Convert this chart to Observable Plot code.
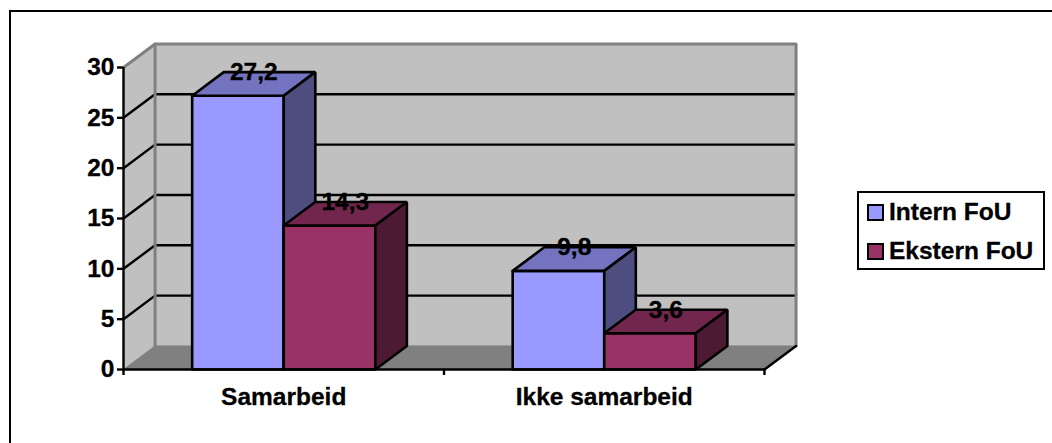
<!DOCTYPE html>
<html><head><meta charset="utf-8">
<script src="https://cdn.jsdelivr.net/npm/d3@7"></script>
<script src="https://cdn.jsdelivr.net/npm/@observablehq/plot@0.6"></script>
<style>
html,body{margin:0;padding:0;background:#fff;overflow:hidden}
#wrap{position:relative;width:1052px;height:443px;font-family:"Liberation Sans",Arial,sans-serif}
#frame{position:absolute;left:9px;top:10px;width:1100px;height:500px;border:2px solid #000}
#legend{position:absolute;left:857px;top:191px;width:184px;height:75px;border:2px solid #000;background:#fff;font-weight:bold;font-size:24.5px;color:#000;-webkit-text-stroke:.3px #000}
.row{position:absolute;left:8px;height:28px;line-height:28px;white-space:nowrap}
.sw{display:inline-block;width:13px;height:13px;border:2px solid #000;margin-right:5px;vertical-align:-1px;-webkit-text-stroke:0}
svg{position:absolute;left:0;top:0}
</style></head><body>
<div id="wrap"><div id="frame"></div><div id="legend"></div></div>
<script>
const categories = ["Samarbeid", "Ikke samarbeid"];
const seriesNames = ["Intern FoU", "Ekstern FoU"];
const internFoU = [27.2, 9.8];
const eksternFoU = [14.3, 3.6];
const yTicks = [0, 5, 10, 15, 20, 25, 30];
const frontColors = ["#9999FF", "#993366"];
const topColors = ["#7373BF", "#73264D"];
const sideColors = ["#4D4D80", "#4D1A33"];

const seriesValues = [internFoU, eksternFoU];
const depthX = 0.0985, depthY = 2.34;        // oblique depth in data units
const barW = 1 / (seriesNames.length + 1.5); // 150% gap width
const yMax = yTicks[yTicks.length - 1], xMax = categories.length;
const comma = (v) => String(v).replace(".", ",");

let id = 0;
const poly = (pts, color) => { const z = id++; return pts.map(([x, y]) => ({x, y, z, color})); };
const barFaces = [], labels = [];
categories.forEach((c, i) => {
  seriesValues.forEach((vals, s) => {
    const v = vals[i], x0 = i + (1 - barW * seriesNames.length) / 2 + s * barW, x1 = x0 + barW;
    barFaces.push(...poly([[x0,0],[x1,0],[x1,v],[x0,v],[x0,0]], frontColors[s]));
    barFaces.push(...poly([[x0,v],[x1,v],[x1+depthX,v+depthY],[x0+depthX,v+depthY],[x0,v]], topColors[s]));
    barFaces.push(...poly([[x1,0],[x1+depthX,depthY],[x1+depthX,v+depthY],[x1,v],[x1,0]], sideColors[s]));
    labels.push({x: (x0 + x1) / 2 + depthX / 2, y: v + depthY, t: comma(v)});
  });
});
const wall = [
  ...poly([[depthX,depthY],[xMax+depthX,depthY],[xMax+depthX,yMax+depthY],[depthX,yMax+depthY],[depthX,depthY]], "#C0C0C0"),
  ...poly([[0,0],[depthX,depthY],[depthX,yMax+depthY],[0,yMax],[0,0]], "#C0C0C0")
];
const floor = poly([[0,0],[xMax,0],[xMax+depthX,depthY],[depthX,depthY],[0,0]], "#808080");
const grid = yTicks.slice(1, -1).flatMap(v => poly([[0,v],[depthX,v+depthY],[xMax+depthX,v+depthY]], "#000"));
const edges = [
  ...poly([[0,yMax],[depthX,yMax+depthY],[xMax+depthX,yMax+depthY],[xMax+depthX,depthY]], "#808080"),
  ...poly([[depthX,yMax+depthY],[depthX,depthY]], "#808080")
];
const floorEdge = [...poly([[xMax,0],[xMax+depthX,depthY]], "#000")];

const chart = Plot.plot({
  width: 1052, height: 443,
  marginLeft: 123, marginRight: 288, marginTop: 67, marginBottom: 74,
  x: {type: "linear", domain: [0, xMax], label: null},
  y: {domain: [0, yMax], label: null},
  color: {type: "identity"},
  style: {background: "transparent", fontFamily: '"Liberation Sans", Arial, sans-serif', overflow: "visible"},
  marks: [
    Plot.line(wall, {x: "x", y: "y", z: "z", fill: "color", stroke: "#C0C0C0", strokeWidth: 1}),
    Plot.line(floor, {x: "x", y: "y", z: "z", fill: "color", stroke: "#808080", strokeWidth: 1}),
    Plot.line(grid, {x: "x", y: "y", z: "z", stroke: "#000", strokeWidth: 2.4, strokeLinejoin: "miter"}),
    Plot.line(edges, {x: "x", y: "y", z: "z", stroke: "#808080", strokeWidth: 3}),
    Plot.line(floorEdge, {x: "x", y: "y", z: "z", stroke: "#000", strokeWidth: 2.4}),
    Plot.line(barFaces, {x: "x", y: "y", z: "z", fill: "color", stroke: "#000", strokeWidth: 2.6, strokeLinejoin: "miter"}),
    Plot.ruleX([0], {y1: 0, y2: yMax, stroke: "#000", strokeWidth: 2.4}),
    Plot.ruleY([0], {x1: 0, x2: xMax, stroke: "#000", strokeWidth: 2.4}),
    Plot.axisY({ticks: yTicks, tickSize: 6, tickPadding: 3, strokeWidth: 2.4, stroke: "#000", fill: "#000", fontSize: 24.5, fontWeight: "bold", tickFormat: d => d, label: null, textStroke: "#000", textStrokeWidth: 0.3}),
    Plot.axisX({ticks: d3.range(xMax + 1), tickSize: 6, strokeWidth: 2.4, stroke: "#000", tickFormat: () => "", label: null}),
    Plot.axisX({ticks: categories.map((c, i) => i + 0.5), tickSize: 0, tickPadding: 18, fill: "#000", fontSize: 24.5, fontWeight: "bold", tickFormat: d => categories[d - 0.5], label: null, textStroke: "#000", textStrokeWidth: 0.3}),
    Plot.text(labels, {x: "x", y: "y", text: "t", fontSize: 24.5, fontWeight: "bold", fill: "#000", textAnchor: "middle", lineAnchor: "middle", stroke: "#000", strokeWidth: 0.3})
  ]
});
document.getElementById("wrap").appendChild(chart);
document.getElementById("wrap").appendChild(document.getElementById("legend"));
const legend = document.getElementById("legend");
seriesNames.forEach((n, i) => {
  const r = document.createElement("div");
  r.className = "row";
  r.style.top = (5 + i * 39) + "px";
  const sw = document.createElement("span");
  sw.className = "sw"; sw.style.background = frontColors[i];
  r.appendChild(sw); r.appendChild(document.createTextNode(n));
  legend.appendChild(r);
});
</script>
</body></html>
